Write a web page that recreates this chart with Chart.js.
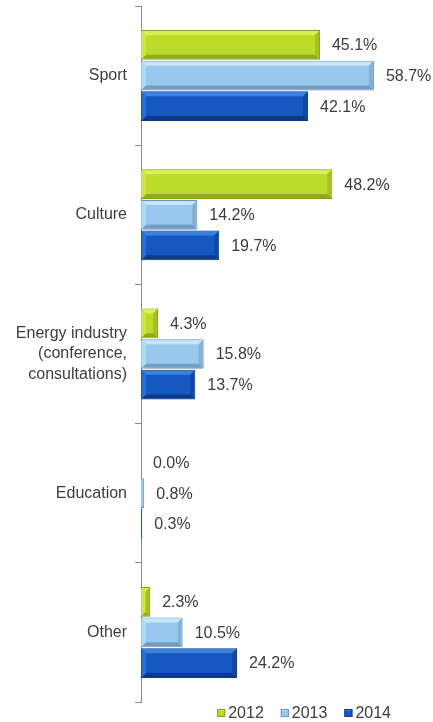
<!DOCTYPE html>
<html>
<head>
<meta charset="utf-8">
<script src="https://cdn.jsdelivr.net/npm/chart.js@4/dist/chart.umd.min.js"></script>
<style>
  html, body { margin: 0; padding: 0; background: #fff; }
</style>
</head>
<body>
<canvas id="chart" width="433" height="722"></canvas>
<script>
"use strict"

const categories = ['Sport', 'Culture', ['Energy industry', '(conference,', 'consultations)'], 'Education', 'Other'];
const years = ['2012', '2013', '2014'];
const values2012 = [45.1, 48.2, 4.3, 0.0, 2.3];
const values2013 = [58.7, 14.2, 15.8, 0.8, 10.5];
const values2014 = [42.1, 19.7, 13.7, 0.3, 24.2];

const fills = ['#bcdb29', '#98c8ee', '#1658c2'];
const borders = ['#849c18', '#6b93b6', '#0e3a85'];
const lights = ['#d8f052', '#c6e6fb', '#3a82e0'];
const darks = ['#91ab1c', '#729cc0', '#0c3a86'];
const FONT = '"Liberation Sans", Arial, sans-serif';
const TEXT = '#3c3c3c';

// bevel edges on each bar
const bevel = {
    id: 'bevel',
    afterDatasetsDraw(chart) {
        const ctx = chart.ctx;
        ctx.save();
        chart.data.datasets.forEach((ds, i) => {
            chart.getDatasetMeta(i).data.forEach(bar => {
                const l = bar.base + 1, r = bar.x - 1;
                const t = bar.y - bar.height / 2 + 1, b = bar.y + bar.height / 2 - 1;
                if (r - l < 2) return;
                const s = Math.min(4, (r - l) / 2);
                const poly = (pts, col) => {
                    ctx.beginPath();
                    ctx.moveTo(pts[0][0], pts[0][1]);
                    pts.slice(1).forEach(p => ctx.lineTo(p[0], p[1]));
                    ctx.closePath();
                    ctx.fillStyle = col;
                    ctx.fill();
                };
                poly([[l, t], [r, t], [r - s, t + s], [l + s, t + s]], lights[i]);
                poly([[l, b], [r, b], [r - s, b - s], [l + s, b - s]], darks[i]);
                ctx.globalAlpha = 0.55;
                poly([[l, t], [l + s, t + s], [l + s, b - s], [l, b]], lights[i]);
                poly([[r, t], [r - s, t + s], [r - s, b - s], [r, b]], darks[i]);
                ctx.globalAlpha = 1;
            });
        });
        ctx.restore();
    }
};

// labels next to each bar
const valueLabels = {
    id: 'valueLabels',
    afterDatasetsDraw(chart) {
        const ctx = chart.ctx;
        ctx.save();
        ctx.font = '16px ' + FONT;
        ctx.fillStyle = TEXT;
        ctx.textBaseline = 'middle';
        chart.data.datasets.forEach((ds, i) => {
            chart.getDatasetMeta(i).data.forEach((bar, j) => {
                ctx.fillText(ds.data[j].toFixed(1) + '%', bar.x + 12, bar.y + 1);
            });
        });
        ctx.restore();
    }
};

// legend under the plot, right aligned to the plot area
const bottomLegend = {
    id: 'bottomLegend',
    afterDraw(chart) {
        const ctx = chart.ctx;
        ctx.save();
        ctx.font = '16px ' + FONT;
        ctx.textBaseline = 'middle';
        const sets = chart.data.datasets;
        const widths = sets.map(ds => 8 + 3 + ctx.measureText(ds.label).width);
        const total = widths.reduce((a, w) => a + w, 0) + 17 * (sets.length - 1);
        let x = chart.chartArea.right - total;
        const y = chart.chartArea.bottom + 11;
        sets.forEach((ds, i) => {
            ctx.fillStyle = fills[i];
            ctx.fillRect(x, y - 4, 8, 8);
            ctx.fillStyle = lights[i];
            ctx.fillRect(x + 1, y - 4, 6, 2);
            ctx.strokeStyle = borders[i];
            ctx.lineWidth = 1;
            ctx.strokeRect(x + 0.5, y - 3.5, 7, 7);
            ctx.fillStyle = TEXT;
            ctx.fillText(ds.label, x + 11, y + 1);
            x += widths[i] + 17;
        });
        ctx.restore();
    }
};

new Chart(document.getElementById('chart'), {
    type: 'bar',
    data: {
        labels: categories,
        datasets: [values2012, values2013, values2014].map((d, i) => ({
            label: years[i],
            data: d,
            backgroundColor: fills[i],
            borderColor: borders[i],
            borderWidth: 1,
            barPercentage: 0.97,
            categoryPercentage: 0.66
        }))
    },
    options: {
        indexAxis: 'y',
        responsive: false,
        animation: false,
        devicePixelRatio: 1,
        layout: { padding: { top: 6, right: 42, left: 0, bottom: 20 } },
        scales: {
            x: {
                min: 0, max: 63,
                display: false
            },
            y: {
                afterFit(scale) {
                    scale.width = 141;
                    scale.paddingTop = 0;
                    scale.paddingBottom = 0;
                },
                grid: { display: true, drawOnChartArea: false, drawTicks: true, tickLength: 6, color: '#8a8a8a', offset: true },
                border: { color: '#8a8a8a', width: 1 },
                ticks: {
                    autoSkip: false,
                    color: TEXT,
                    padding: 8,
                    font: { family: FONT, size: 16, lineHeight: 1.3 }
                }
            }
        },
        plugins: {
            legend: { display: false },
            tooltip: { enabled: false }
        }
    },
    plugins: [bevel, valueLabels, bottomLegend]
});
</script>
</body>
</html>
